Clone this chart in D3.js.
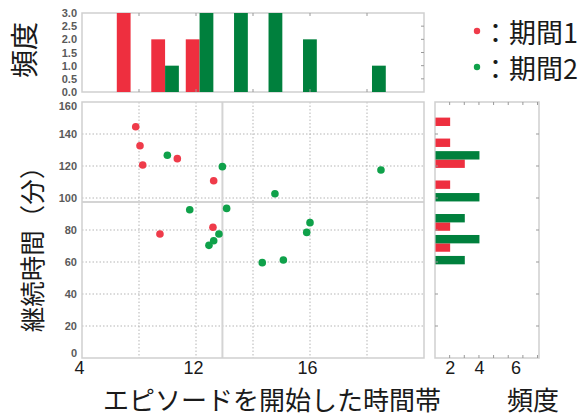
<!DOCTYPE html>
<html>
<head>
<meta charset="utf-8">
<script src="https://cdn.jsdelivr.net/npm/d3@7/dist/d3.min.js"></script>
<style>
  html, body { margin: 0; padding: 0; background: #fff; }
  svg { display: block; }
  .tick-num { font-family: "Liberation Sans", Arial, sans-serif; font-weight: bold; font-size: 11px; fill: #5a5a5a; }
  .big-num { font-family: "Liberation Sans", Arial, sans-serif; font-size: 18px; fill: #1a1a1a; }
  .jp { font-family: "Noto Sans CJK JP", sans-serif; fill: #1a1a1a; }
</style>
</head>
<body>
<script>
// Episode start time (hour of day, 4–28) and duration (minutes), two periods
const period1Start = [7.77, 8.07, 8.26, 9.47, 10.69, 13.24, 13.19];
const period1Dur   = [144.5, 132.7, 120.6, 77.5, 124.6, 110.8, 81.7];
const period2Start = [9.99, 11.56, 13.85, 14.15, 12.91, 13.24, 13.61, 16.65, 18.13, 17.54, 24.98, 20.0, 19.77];
const period2Dur   = [126.7, 92.7, 119.6, 93.5, 70.4, 73.3, 77.5, 59.6, 61.25, 102.7, 117.5, 84.6, 78.5];

// Marginal histogram of start time
const startBinEdges = [6.2, 8.62, 11.04, 13.46, 15.88, 18.3, 20.72, 23.14, 25.56];
const startCount1 = [3, 2, 2, 0, 0, 0, 0, 0];
const startCount2 = [0, 1, 3, 3, 3, 2, 0, 1];

// Marginal histogram of duration
const durBinEdges = [52, 65.1, 78.2, 91.3, 104.4, 117.5, 130.6, 143.7, 156.8];
const durCount1 = [0, 1, 1, 0, 1, 2, 1, 1];
const durCount2 = [2, 3, 2, 3, 0, 3, 0, 0];

// Axis ticks and labels
const startTicks = [4, 8, 12, 16, 20, 24, 28];
const startTickValues = [4, 12, 20];
const startTickLabels = ["4", "12", "16"];
const durTicks = [0, 20, 40, 60, 80, 100, 120, 140, 160];
const countTicksTop = [0, 0.5, 1, 1.5, 2, 2.5, 3];
const countTicksRight = [1, 2, 3, 4, 5, 6, 7];
const countTickValuesRight = [1, 3, 5.5];
const countTickLabelsRight = ["2", "4", "6"];

const seriesNames = ["期間1", "期間2"];
const barColors = ["#ee2f3f", "#00803d"];
const dotColors = ["#ef3b4a", "#0fa14a"];

const W = 585, H = 418;
const svg = d3.select("body").append("svg").attr("width", W).attr("height", H);

// Panels
const mainP = { x0: 82, x1: 424, y0: 102, y1: 358 };
const topP = { x0: 82, x1: 424, y0: 13, y1: 92 };
const sideP = { x0: 435, x1: 539, y0: 102, y1: 358 };

const x = d3.scaleLinear().domain([4, 28]).range([mainP.x0, mainP.x1]);
const y = d3.scaleLinear().domain([0, 160]).range([mainP.y1, mainP.y0]);
const yTop = d3.scaleLinear().domain([0, 3]).range([topP.y1, topP.y0]);
const xSide = d3.scaleLinear().domain([0, 7.1]).range([sideP.x0, sideP.x1]);

const frameColor = "#cfcfcf";

function styleText(g, cls) {
  g.select(".domain").remove();
  g.selectAll("text").attr("class", cls).attr("font-family", null).attr("font-size", null).attr("fill", null);
}

// ---------- main scatter ----------
const gMain = svg.append("g");

// dotted grid
gMain.selectAll(".vgrid").data(startTicks.slice(1, -1)).join("line")
  .attr("x1", d => x(d)).attr("x2", d => x(d))
  .attr("y1", mainP.y0).attr("y2", mainP.y1)
  .attr("stroke", "#b5b5b5").attr("stroke-width", 1).attr("stroke-dasharray", "1.5,2");
gMain.selectAll(".hgrid").data(durTicks.slice(1, -1)).join("line")
  .attr("y1", d => y(d)).attr("y2", d => y(d))
  .attr("x1", mainP.x0).attr("x2", mainP.x1)
  .attr("stroke", "#b5b5b5").attr("stroke-width", 1).attr("stroke-dasharray", "1.5,2");

// mean lines of all episodes
const allStart = period1Start.concat(period2Start);
const allDur = period1Dur.concat(period2Dur);
const meanStart = d3.mean(allStart), meanDur = d3.mean(allDur);
gMain.append("line")
  .attr("x1", x(meanStart)).attr("x2", x(meanStart))
  .attr("y1", mainP.y0).attr("y2", mainP.y1)
  .attr("stroke", "#d4d4d4").attr("stroke-width", 2);
gMain.append("line")
  .attr("y1", y(meanDur)).attr("y2", y(meanDur))
  .attr("x1", mainP.x0).attr("x2", mainP.x1)
  .attr("stroke", "#d4d4d4").attr("stroke-width", 2);

gMain.append("rect")
  .attr("x", mainP.x0).attr("y", mainP.y0)
  .attr("width", mainP.x1 - mainP.x0).attr("height", mainP.y1 - mainP.y0)
  .attr("fill", "none").attr("stroke", frameColor).attr("stroke-width", 1.5);

// y tick labels (end labels nudged inward to clear neighbouring labels)
const yAxis = d3.axisLeft(y).tickValues(durTicks).tickSize(0).tickPadding(5).tickFormat(d3.format("d"));
gMain.append("g").attr("transform", `translate(${mainP.x0},0)`).call(yAxis)
  .call(g => styleText(g, "tick-num"))
  .call(g => g.selectAll("text").filter(d => d === 160).attr("dy", "0.65em"))
  .call(g => g.selectAll("text").filter(d => d === 0).attr("dy", "-0.12em"));

// x tick labels
const xAxis = d3.axisBottom(x).tickValues(startTickValues).tickSize(0).tickPadding(3)
  .tickFormat((d, i) => startTickLabels[i]);
gMain.append("g").attr("transform", `translate(-3,${mainP.y1})`).call(xAxis)
  .call(g => styleText(g, "big-num"));

// points
const pts = [
  ...period1Start.map((s, i) => ({ s, d: period1Dur[i], k: 0 })),
  ...period2Start.map((s, i) => ({ s, d: period2Dur[i], k: 1 }))
];
gMain.selectAll(".pt").data(pts).join("circle")
  .attr("cx", d => x(d.s)).attr("cy", d => y(d.d)).attr("r", 3.8)
  .attr("fill", d => dotColors[d.k]);

// ---------- top histogram ----------
const gTop = svg.append("g");
gTop.append("rect")
  .attr("x", topP.x0).attr("y", topP.y0)
  .attr("width", topP.x1 - topP.x0).attr("height", topP.y1 - topP.y0)
  .attr("fill", "none").attr("stroke", frameColor).attr("stroke-width", 1.5);

function topBars(counts, k) {
  const data = counts.map((c, i) => ({ c, a: startBinEdges[i], b: startBinEdges[i + 1] }));
  gTop.selectAll(".tb" + k).data(data.filter(d => d.c > 0)).join("rect")
    .attr("x", d => { const w = x(d.b) - x(d.a); return x(d.a) + 0.1 * w + k * 0.4 * w; })
    .attr("width", d => 0.4 * (x(d.b) - x(d.a)))
    .attr("y", d => yTop(d.c)).attr("height", d => yTop(0) - yTop(d.c))
    .attr("fill", barColors[k]);
}
topBars(startCount1, 0);
topBars(startCount2, 1);

// tick marks
startTicks.slice(1, -1).forEach(t => {
  gTop.append("line").attr("x1", x(t)).attr("x2", x(t)).attr("y1", topP.y0).attr("y2", topP.y0 + 3).attr("stroke", "#999");
  gTop.append("line").attr("x1", x(t)).attr("x2", x(t)).attr("y1", topP.y1).attr("y2", topP.y1 - 3).attr("stroke", "#999");
});
countTicksTop.slice(1, -1).forEach(t => {
  gTop.append("line").attr("x1", topP.x1).attr("x2", topP.x1 - 3).attr("y1", yTop(t)).attr("y2", yTop(t)).attr("stroke", "#999");
});
const yTopAxis = d3.axisLeft(yTop).tickValues(countTicksTop).tickSize(0).tickPadding(5).tickFormat(d3.format(".1f"));
gTop.append("g").attr("transform", `translate(${topP.x0},0)`).call(yTopAxis)
  .call(g => styleText(g, "tick-num"));

// ---------- side histogram ----------
const gSide = svg.append("g");
gSide.append("rect")
  .attr("x", sideP.x0).attr("y", sideP.y0)
  .attr("width", sideP.x1 - sideP.x0).attr("height", sideP.y1 - sideP.y0)
  .attr("fill", "none").attr("stroke", frameColor).attr("stroke-width", 1.5);

function sideBars(counts, k) {
  const data = counts.map((c, i) => ({ c, a: durBinEdges[i], b: durBinEdges[i + 1] }));
  gSide.selectAll(".sb" + k).data(data.filter(d => d.c > 0)).join("rect")
    .attr("y", d => { const h = y(d.a) - y(d.b); return y(d.a) - 0.1 * h - (k + 1) * 0.4 * h; })
    .attr("height", d => 0.4 * (y(d.a) - y(d.b)))
    .attr("x", xSide(0) + 0.5).attr("width", d => xSide(d.c) - xSide(0))
    .attr("fill", barColors[k]);
}
sideBars(durCount1, 0);
sideBars(durCount2, 1);

countTicksRight.forEach(t => {
  gSide.append("line").attr("x1", xSide(t)).attr("x2", xSide(t)).attr("y1", sideP.y0).attr("y2", sideP.y0 + 3).attr("stroke", "#999");
  gSide.append("line").attr("x1", xSide(t)).attr("x2", xSide(t)).attr("y1", sideP.y1).attr("y2", sideP.y1 - 3).attr("stroke", "#999");
});
durTicks.slice(1, -1).forEach(t => {
  gSide.append("line").attr("x1", sideP.x0).attr("x2", sideP.x0 + 3).attr("y1", y(t)).attr("y2", y(t)).attr("stroke", "#999");
  gSide.append("line").attr("x1", sideP.x1).attr("x2", sideP.x1 - 3).attr("y1", y(t)).attr("y2", y(t)).attr("stroke", "#999");
});
const xSideAxis = d3.axisBottom(xSide).tickValues(countTickValuesRight).tickSize(0).tickPadding(3)
  .tickFormat((d, i) => countTickLabelsRight[i]);
gSide.append("g").attr("transform", `translate(0,${sideP.y1})`).call(xSideAxis)
  .call(g => styleText(g, "big-num"));

// ---------- titles ----------
svg.append("text").attr("class", "jp").attr("font-size", 26)
  .attr("x", 272).attr("y", 410).attr("text-anchor", "middle")
  .text("エピソードを開始した時間帯");
svg.append("text").attr("class", "jp").attr("font-size", 26)
  .attr("x", 533).attr("y", 410).attr("text-anchor", "middle")
  .text("頻度");
svg.append("text").attr("class", "jp").attr("font-size", 25.5)
  .attr("transform", "translate(30,243) rotate(-90)")
  .attr("text-anchor", "middle").attr("dominant-baseline", "central")
  .text("継続時間（分）");
svg.append("text").attr("class", "jp").attr("font-size", 28)
  .attr("transform", "translate(23,50) rotate(-90)")
  .attr("text-anchor", "middle").attr("dominant-baseline", "central")
  .text("頻度");

// ---------- legend ----------
const legend = svg.append("g");
seriesNames.forEach((name, i) => {
  const cy = 31 + i * 36;
  legend.append("circle").attr("cx", 477).attr("cy", cy).attr("r", 3.2).attr("fill", dotColors[i]);
  legend.append("text").attr("class", "jp").attr("font-size", 27)
    .attr("x", 482).attr("y", cy).attr("dominant-baseline", "central")
    .text("：" + name);
});
</script>
</body>
</html>
